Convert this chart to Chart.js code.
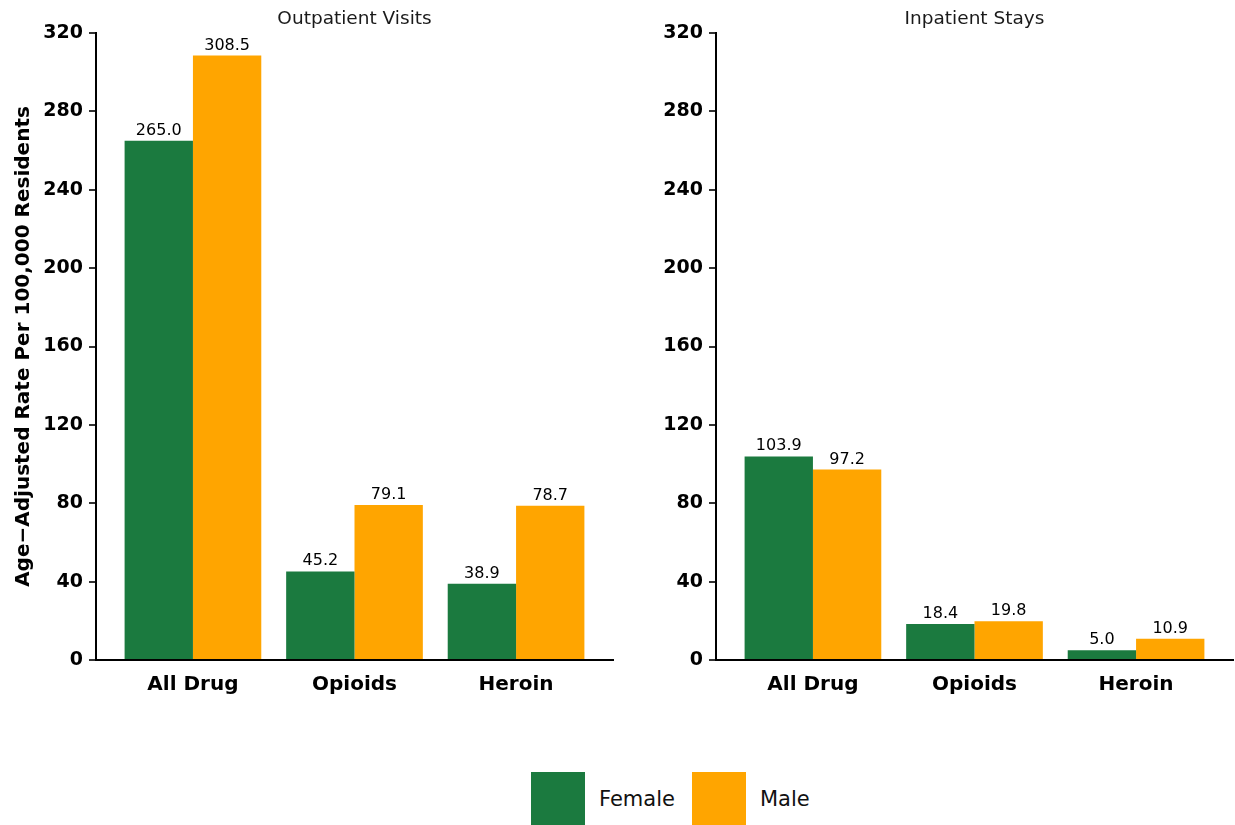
<!DOCTYPE html>
<html>
<head>
<meta charset="utf-8">
<script src="https://cdn.jsdelivr.net/npm/chart.js@4.4.0/dist/chart.umd.min.js"></script>
<style>
html,body{margin:0;padding:0;background:#fff;}
#wrap{position:relative;width:1235px;height:825px;overflow:hidden;font-family:"DejaVu Sans";}
canvas{position:absolute;top:0;}
#c1{left:0;}
#c2{left:620px;}
.key{position:absolute;top:772px;width:54px;height:54px;}
.lab{position:absolute;top:789px;font-size:21px;line-height:21px;color:#111;white-space:nowrap;}
</style>
</head>
<body>
<div id="wrap">
<canvas id="c1" width="616" height="720"></canvas>
<canvas id="c2" width="615" height="720"></canvas>
</div>
<script>
const categories = ['All Drug', 'Opioids', 'Heroin'];
const seriesNames = ['Female', 'Male'];
const seriesColors = ['#1b7a3f', '#ffa500'];
const outpatientFemale = [265.0, 45.2, 38.9];
const outpatientMale = [308.5, 79.1, 78.7];
const inpatientFemale = [103.9, 18.4, 5.0];
const inpatientMale = [97.2, 19.8, 10.9];
const yTicks = [0, 40, 80, 120, 160, 200, 240, 280, 320];
const panelTitles = ['Outpatient Visits', 'Inpatient Stays'];
const yTitle = 'Age\u2212Adjusted Rate Per 100,000 Residents';

Chart.defaults.font.family = '"DejaVu Sans"';
Chart.defaults.color = '#000';

const valueLabels = {
  id: 'valueLabels',
  afterDatasetsDraw(chart) {
    const ctx = chart.ctx;
    ctx.save();
    ctx.font = '16px "DejaVu Sans"';
    ctx.fillStyle = '#000';
    ctx.textAlign = 'center';
    ctx.textBaseline = 'alphabetic';
    chart.data.datasets.forEach((ds, i) => {
      chart.getDatasetMeta(i).data.forEach((el, j) => {
        ctx.fillText(ds.data[j].y.toFixed(1), el.x, el.y - 6);
      });
    });
    ctx.restore();
  }
};

function makeChart(id, title, female, male, showYTitle, padRight) {
  const vals = [female, male];
  return new Chart(document.getElementById(id), {
    type: 'bar',
    data: {
      datasets: vals.map((v, k) => ({
        label: seriesNames[k],
        data: v.map((y, i) => ({ x: i + 1, y: y })),
        backgroundColor: seriesColors[k],
        borderWidth: 0,
        categoryPercentage: 0.846,
        barPercentage: 1.0
      }))
    },
    options: {
      responsive: false,
      animation: false,
      devicePixelRatio: 1,
      layout: { padding: { top: 0, left: 0, right: padRight, bottom: 0 } },
      plugins: {
        legend: { display: false },
        tooltip: { enabled: false },
        title: {
          display: true, text: title, fullSize: false,
          font: { size: 18.5, weight: 'normal' }, color: '#1a1a1a',
          padding: { top: 8, bottom: 2.8 }
        }
      },
      scales: {
        x: {
          type: 'linear', min: 0.4, max: 3.6, offset: false,
          afterBuildTicks(scale) { scale.ticks = categories.map((c, i) => ({ value: i + 1 })); },
          ticks: {
            callback: (v) => categories[Math.round(v) - 1] || '',
            font: { size: 20, weight: 'bold' }, color: '#000', padding: 13,
            autoSkip: false, maxRotation: 0, minRotation: 0
          },
          grid: { display: false, drawTicks: false, offset: false },
          border: { display: true, color: '#000', width: 2 },
          afterFit(s) { s.height = 60; }
        },
        y: {
          min: 0, max: 320,
          afterBuildTicks(scale) { scale.ticks = yTicks.map(v => ({ value: v })); },
          ticks: { font: { size: 19, weight: 'bold' }, color: '#000', padding: 6 },
          grid: { drawOnChartArea: false, drawTicks: true, tickLength: 7, color: '#333', lineWidth: 2 },
          border: { display: true, color: '#000', width: 2 },
          title: {
            display: showYTitle, text: yTitle,
            font: { size: 20, weight: 'bold' }, color: '#000',
            padding: { top: 12, bottom: 0 }
          },
          afterFit(s) { s.width = 96; }
        }
      }
    },
    plugins: [valueLabels]
  });
}

makeChart('c1', panelTitles[0], outpatientFemale, outpatientMale, true, 3);
makeChart('c2', panelTitles[1], inpatientFemale, inpatientMale, false, 2);

// legend
const wrap = document.getElementById('wrap');
const keyLeft = [531, 692];
const labLeft = [599, 760];
seriesNames.forEach((n, k) => {
  const key = document.createElement('div');
  key.className = 'key';
  key.style.left = keyLeft[k] + 'px';
  key.style.background = seriesColors[k];
  wrap.appendChild(key);
  const lab = document.createElement('span');
  lab.className = 'lab';
  lab.style.left = labLeft[k] + 'px';
  lab.textContent = n;
  wrap.appendChild(lab);
});
</script>
</body>
</html>
